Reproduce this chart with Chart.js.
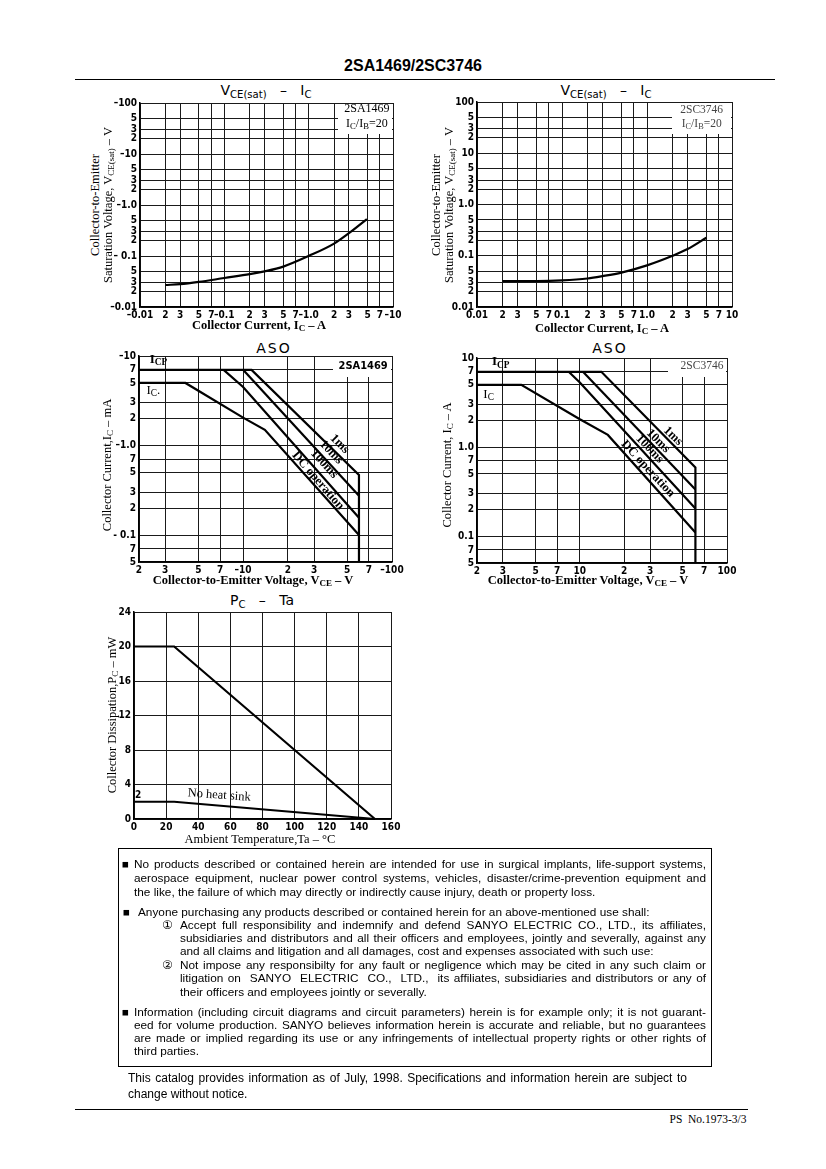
<!DOCTYPE html>
<html>
<head>
<meta charset="utf-8">
<title>2SA1469/2SC3746</title>
<script src="https://cdn.jsdelivr.net/npm/chart.js@4/dist/chart.umd.min.js"></script>
<style>
  body { margin: 0; background: #fff; }
  #page { position: relative; width: 826px; height: 1169px; overflow: hidden; background: #fff; color: #000; font-family: "Liberation Sans", Arial, sans-serif; }
  canvas { position: absolute; }
  .abs { position: absolute; white-space: nowrap; transform: translate(-50%, -50%); }
  .ctitle { font-family: "DejaVu Sans", sans-serif; font-size: 14px; }
  .xt { font-family: "Liberation Serif", serif; font-weight: bold; font-size: 12.5px; }
  .yt { font-family: "Liberation Serif", serif; font-size: 12.5px; transform: translate(-50%, -50%) rotate(-90deg); }
  sub { font-size: 72%; vertical-align: -0.3em; line-height: 0; }
  .rule { position: absolute; height: 0; border-top: 1.5px solid #000; }
  #notice { position: absolute; left: 118px; top: 848px; width: 594px; height: 219px; border: 1.5px solid #000; box-sizing: border-box; }
  .ln { position: absolute; font-size: 11.8px; line-height: 14px; height: 14px; overflow: visible; white-space: normal; }
  .j { text-align: justify; text-align-last: justify; }
  .sq { position: absolute; font-size: 11.5px; line-height: 14px; }
  .cn { position: absolute; font-family: "DejaVu Sans", sans-serif; font-size: 12px; line-height: 14px; }
</style>
</head>
<body>
<div id="page">
  <div class="abs" style="left:413px; top:66px; font-weight:bold; font-size:16px;">2SA1469/2SC3746</div>
  <div class="rule" style="left:75px; top:79px; width:700px;"></div>

  <!-- chart titles -->
  <div class="abs ctitle" style="left:266px; top:90px;">V<sub>CE(sat)</sub>&nbsp;&nbsp;&nbsp;–&nbsp;&nbsp;&nbsp;I<sub>C</sub></div>
  <div class="abs ctitle" style="left:606px; top:90px;">V<sub>CE(sat)</sub>&nbsp;&nbsp;&nbsp;–&nbsp;&nbsp;&nbsp;I<sub>C</sub></div>
  <div class="abs ctitle" style="left:274px; top:348px; letter-spacing:2px;">ASO</div>
  <div class="abs ctitle" style="left:610px; top:348px; letter-spacing:2px;">ASO</div>
  <div class="abs ctitle" style="left:262px; top:600px;">P<sub>C</sub>&nbsp;&nbsp;&nbsp;–&nbsp;&nbsp;&nbsp;Ta</div>

  <canvas id="c1"></canvas>
  <canvas id="c2"></canvas>
  <canvas id="c3"></canvas>
  <canvas id="c4"></canvas>
  <canvas id="c5"></canvas>

  <!-- axis titles -->
  <div class="abs xt" style="left:259px; top:325px;">Collector Current, I<sub>C</sub> – A</div>
  <div class="abs yt" style="left:95px; top:205px;">Collector-to-Emitter</div>
  <div class="abs yt" style="left:108px; top:205px;">Saturation Voltage, V<sub>CE(sat)</sub> – V</div>

  <div class="abs xt" style="left:602px; top:328px;">Collector Current, I<sub>C</sub> – A</div>
  <div class="abs yt" style="left:436px; top:205px;">Collector-to-Emitter</div>
  <div class="abs yt" style="left:449px; top:205px;">Saturation Voltage, V<sub>CE(sat)</sub> – V</div>

  <div class="abs xt" style="left:253px; top:580px;">Collector-to-Emitter Voltage, V<sub>CE</sub> – V</div>
  <div class="abs yt" style="left:107px; top:465px;">Collector Current,I<sub>C</sub> – mA</div>

  <div class="abs xt" style="left:588px; top:580px;">Collector-to-Emitter Voltage, V<sub>CE</sub> – V</div>
  <div class="abs yt" style="left:447px; top:465px;">Collector Current, I<sub>C</sub> – A</div>

  <div class="abs xt" style="left:260px; top:839px; font-weight:normal;">Ambient Temperature,Ta – °C</div>
  <div class="abs yt" style="left:112px; top:715px;">Collector Dissipation,P<sub>C</sub> – mW</div>

  <!-- notice box -->
  <div id="notice">
    <div class="sq" style="left:3px; top:8px;">■</div>
    <div class="ln j" style="left:15px; width:572px; top:8px;">No products described or contained herein are intended for use in surgical implants, life-support systems,</div>
    <div class="ln j" style="left:15px; width:572px; top:22px;">aerospace equipment, nuclear power control systems, vehicles, disaster/crime-prevention equipment and</div>
    <div class="ln" style="left:15px; top:36px;">the like, the failure of which may directly or indirectly cause injury, death or property loss.</div>

    <div class="sq" style="left:4px; top:56px;">■</div>
    <div class="ln" style="left:19px; top:56px;">Anyone purchasing any products described or contained herein for an above-mentioned use shall:</div>
    <div class="cn" style="left:43px; top:69px;">①</div>
    <div class="ln j" style="left:61px; width:526px; top:69px;">Accept full responsibility and indemnify and defend SANYO ELECTRIC CO., LTD., its affiliates,</div>
    <div class="ln j" style="left:61px; width:526px; top:82px;">subsidiaries and distributors and all their officers and employees, jointly and severally, against any</div>
    <div class="ln" style="left:61px; top:95px;">and all claims and litigation and all damages, cost and expenses associated with such use:</div>
    <div class="cn" style="left:43px; top:109px;">②</div>
    <div class="ln j" style="left:61px; width:526px; top:109px;">Not impose any responsibilty for any fault or negligence which may be cited in any such claim or</div>
    <div class="ln j" style="left:61px; width:526px; top:122px;">litigation on&nbsp; SANYO&nbsp; ELECTRIC&nbsp; CO.,&nbsp; LTD.,&nbsp; its affiliates, subsidiaries and distributors or any of</div>
    <div class="ln" style="left:61px; top:136px;">their officers and employees jointly or severally.</div>

    <div class="sq" style="left:3px; top:156px;">■</div>
    <div class="ln j" style="left:15px; width:572px; top:156px;">Information (including circuit diagrams and circuit parameters) herein is for example only; it is not guarant-</div>
    <div class="ln j" style="left:15px; width:572px; top:169px;">eed for volume production. SANYO believes information herein is accurate and reliable, but no guarantees</div>
    <div class="ln j" style="left:15px; width:572px; top:182px;">are made or implied regarding its use or any infringements of intellectual property rights or other rights of</div>
    <div class="ln" style="left:15px; top:195px;">third parties.</div>
  </div>

  <div class="ln j" style="left:128px; width:559px; top:1071px; font-size:12px;">This catalog provides information as of July, 1998. Specifications and information herein are subject to</div>
  <div class="ln" style="left:128px; top:1087px; font-size:12px;">change without notice.</div>
  <div class="rule" style="left:75px; top:1109px; width:673px;"></div>
  <div class="abs" style="left:708px; top:1119px; font-family:'Liberation Serif', serif; font-size:11.5px;">PS&nbsp; No.1973-3/3</div>
</div>

<script>
// --- VCE(sat) - IC : tick values and labels ---
const vceTicksX = [0.01, 0.02, 0.03, 0.05, 0.07, 0.1, 0.2, 0.3, 0.5, 0.7, 1, 2, 3, 5, 7, 10];
const vceTicksY = [0.01, 0.02, 0.03, 0.05, 0.1, 0.2, 0.3, 0.5, 1, 2, 3, 5, 10, 20, 30, 50, 100];
const vceLabelsXA = ["–0.01", "2", "3", "5", "7", "–0.1", "2", "3", "5", "7", "–1.0", "2", "3", "5", "7", "–10"];
const vceLabelsYA = ["–0.01", "2", "3", "5", "– 0.1", "2", "3", "5", "–1.0", "2", "3", "5", "–10", "2", "3", "5", "–100"];
const vceLabelsXC = ["0.01", "2", "3", "5", "7", "0.1", "2", "3", "5", "7", "1.0", "2", "3", "5", "7", "10"];
const vceLabelsYC = ["0.01", "2", "3", "5", "0.1", "2", "3", "5", "1.0", "2", "3", "5", "10", "2", "3", "5", "100"];

// 2SA1469 curve (magnitudes)
const vceA_ic = [0.02, 0.03, 0.05, 0.1, 0.2, 0.3, 0.5, 1, 2, 3, 4.9];
const vceA_v = [0.027, 0.028, 0.031, 0.037, 0.044, 0.05, 0.062, 0.1, 0.175, 0.28, 0.53];
// 2SC3746 curve
const vceC_ic = [0.02, 0.05, 0.1, 0.2, 0.3, 0.5, 1, 2, 3, 5];
const vceC_v = [0.032, 0.032, 0.033, 0.036, 0.04, 0.047, 0.065, 0.1, 0.135, 0.225];

// --- ASO : tick values and labels ---
const asoTicksX = [2, 3, 5, 7, 10, 20, 30, 50, 70, 100];
const asoTicksY = [0.05, 0.07, 0.1, 0.2, 0.3, 0.5, 0.7, 1, 2, 3, 5, 7, 10];
const asoLabelsXA = ["2", "3", "5", "7", "–10", "2", "3", "5", "7", "–100"];
const asoLabelsYA = ["5", "7", "- 0.1", "2", "3", "5", "7", "–1.0", "2", "3", "5", "7", "–10"];
const asoLabelsXC = ["2", "3", "5", "7", "10", "2", "3", "5", "7", "100"];
const asoLabelsYC = ["5", "7", "0.1", "2", "3", "5", "7", "1.0", "2", "3", "5", "7", "10"];

// 2SA1469 ASO (ICP line + 1ms, 10ms, 100ms, DC)
const asoA_1ms_x = [2, 11.4, 60, 60];
const asoA_1ms_y = [7, 7, 0.47, 0.05];
const asoA_10ms_x = [10, 60];
const asoA_10ms_y = [7, 0.275];
const asoA_100ms_x = [7.4, 10, 60];
const asoA_100ms_y = [7, 4.5, 0.156];
const asoA_dc_x = [2, 4.1, 10, 14, 60];
const asoA_dc_y = [5, 5, 2.05, 1.5, 0.1];

// 2SC3746 ASO
const asoC_1ms_x = [2, 14, 61, 61];
const asoC_1ms_y = [7, 7, 0.59, 0.05];
const asoC_10ms_x = [10.5, 61];
const asoC_10ms_y = [7, 0.334];
const asoC_100ms_x = [8.4, 10, 61];
const asoC_100ms_y = [7, 5.3, 0.204];
const asoC_dc_x = [2, 4.0, 10, 15.5, 61];
const asoC_dc_y = [5, 5, 2.05, 1.37, 0.11];

// --- PC - Ta ---
const pcTicksX = [0, 20, 40, 60, 80, 100, 120, 140, 160];
const pcTicksY = [0, 4, 8, 12, 16, 20, 24];
const pcSink_ta = [0, 25, 150];
const pcSink_pc = [20, 20, 0];
const pcNoSink_ta = [0, 25, 150];
const pcNoSink_pc = [2, 2, 0];

// plot areas on the page: [left, top, right, bottom]
const Y_W = 36, X_H = 16, PAD_T = 8, PAD_R = 16;
const tickFont = { family: "'DejaVu Sans Condensed', 'Liberation Sans Narrow', 'DejaVu Sans', sans-serif", size: 10, weight: "bold" };

// text labels drawn inside the plots (data coordinates)
const notesById = {
  c1: [
    { box: [55, 30] },
    { x: 4.9, y: 76, runs: [["2SA1469"]], size: 12, family: "Liberation Serif" },
    { x: 4.9, y: 39, runs: [["I"], ["C", 1], ["/I"], ["B", 1], ["=20"]], size: 12, family: "Liberation Serif" }
  ],
  c2: [
    { box: [60, 31] },
    { x: 4.4, y: 70, runs: [["2SC3746"]], size: 11.5, family: "Liberation Serif", color: "#444" },
    { x: 4.4, y: 37, runs: [["I"], ["C", 1], ["/I"], ["B", 1], ["=20"]], size: 11.5, family: "Liberation Serif", color: "#444" }
  ],
  c3: [
    { box: [59, 20] },
    { x: 64, y: 7.7, runs: [["2SA1469"]], size: 11, family: "DejaVu Sans Condensed", weight: "bold" },
    { x: 2.7, y: 9.1, runs: [["I"], ["CP", 1]], size: 13, family: "Liberation Serif", weight: "bold" },
    { x: 2.5, y: 4.1, runs: [["I"], ["C", 1], ["."]], size: 13, family: "Liberation Serif" },
    { x: 44.5, y: 1.04, runs: [["1ms"]], size: 12.5, family: "Liberation Serif", weight: "bold", angle: 45 },
    { x: 39, y: 0.84, runs: [["10ms"]], size: 12.5, family: "Liberation Serif", weight: "bold", angle: 46 },
    { x: 35, y: 0.62, runs: [["100ms"]], size: 12.5, family: "Liberation Serif", weight: "bold", angle: 47 },
    { x: 31.8, y: 0.405, runs: [["DC operation"]], size: 12.5, family: "Liberation Serif", weight: "bold", angle: 49 }
  ],
  c4: [
    { box: [59, 18] },
    { x: 67.6, y: 8.1, runs: [["2SC3746"]], size: 11.5, family: "Liberation Serif", color: "#444" },
    { x: 2.9, y: 9.0, runs: [["I"], ["CP", 1]], size: 13, family: "Liberation Serif", weight: "bold" },
    { x: 2.4, y: 3.9, runs: [["I"], ["C", 1]], size: 13, family: "Liberation Serif" },
    { x: 43, y: 1.33, runs: [["1ms"]], size: 12.5, family: "Liberation Serif", weight: "bold", angle: 44 },
    { x: 34, y: 1.17, runs: [["10ms"]], size: 12.5, family: "Liberation Serif", weight: "bold", angle: 45 },
    { x: 29.8, y: 0.95, runs: [["100ms"]], size: 12.5, family: "Liberation Serif", weight: "bold", angle: 46 },
    { x: 29, y: 0.57, runs: [["DC operation"]], size: 12.5, family: "Liberation Serif", weight: "bold", angle: 47 }
  ],
  c5: [
    { x: 2.6, y: 2.7, runs: [["2"]], size: 10, family: "DejaVu Sans Condensed", weight: "bold" },
    { x: 53, y: 2.75, runs: [["No heat sink"]], size: 12.5, family: "Liberation Serif", angle: 4 }
  ]
};

function drawRuns(ctx, n) {
  const base = n.size || 12;
  const fam = n.family || "serif";
  const w = n.weight || "normal";
  let total = 0;
  n.runs.forEach((r) => {
    ctx.font = w + " " + (r[1] ? base * 0.72 : base) + "px '" + fam + "', serif";
    total += ctx.measureText(r[0]).width;
  });
  let x = -total / 2;
  ctx.textBaseline = "middle";
  ctx.fillStyle = n.color || "#000";
  n.runs.forEach((r) => {
    const s = r[1] ? base * 0.72 : base;
    ctx.font = w + " " + s + "px '" + fam + "', serif";
    ctx.fillText(r[0], x, r[1] ? base * 0.25 : 0);
    x += ctx.measureText(r[0]).width;
  });
}

const notesPlugin = {
  id: "notes",
  beforeDatasetsDraw(chart) {
    const list = notesById[chart.canvas.id] || [];
    const a = chart.chartArea;
    const ctx = chart.ctx;
    list.forEach((n) => {
      if (!n.box) return;
      ctx.save();
      ctx.fillStyle = "#fff";
      ctx.fillRect(a.right - n.box[0], a.top + 1, n.box[0] - 1, n.box[1]);
      ctx.restore();
    });
  },
  afterDatasetsDraw(chart) {
    const list = notesById[chart.canvas.id] || [];
    const ctx = chart.ctx;
    const xs = chart.scales.x, ys = chart.scales.y;
    list.forEach((n) => {
      if (!n.runs) return;
      ctx.save();
      ctx.translate(xs.getPixelForValue(n.x), ys.getPixelForValue(n.y));
      if (n.angle) ctx.rotate((n.angle * Math.PI) / 180);
      drawRuns(ctx, n);
      ctx.restore();
    });
  }
};

function pts(xs, ys) {
  return xs.map((x, i) => ({ x: x, y: ys[i] }));
}

function axis(type, ticks, labels, isX) {
  return {
    type: type,
    min: ticks[0],
    max: ticks[ticks.length - 1],
    afterBuildTicks: (s) => {
      s.ticks = ticks.map((v) => ({ value: v }));
    },
    afterFit: (s) => {
      if (isX) s.height = X_H;
      else s.width = Y_W;
    },
    ticks: {
      autoSkip: false,
      maxRotation: 0,
      minRotation: 0,
      padding: isX ? 2 : 3,
      color: "#000",
      font: tickFont,
      callback: (v, i) => labels[i]
    },
    grid: { color: "#1a1a1a", lineWidth: 1, drawTicks: false },
    border: { color: "#000", width: 1.5 }
  };
}

function line(xs, ys, curved) {
  return {
    data: pts(xs, ys),
    showLine: true,
    borderColor: "#000",
    borderWidth: 2.2,
    pointRadius: 0,
    clip: false,
    cubicInterpolationMode: curved ? "monotone" : "default",
    tension: 0
  };
}

function makeChart(id, plot, datasets, xAxis, yAxis) {
  const cv = document.getElementById(id);
  const w = plot[2] - plot[0] + Y_W + PAD_R;
  const h = plot[3] - plot[1] + PAD_T + X_H;
  cv.width = w;
  cv.height = h;
  cv.style.left = plot[0] - Y_W + "px";
  cv.style.top = plot[1] - PAD_T + "px";
  cv.style.width = w + "px";
  cv.style.height = h + "px";
  return new Chart(cv.getContext("2d"), {
    type: "scatter",
    data: { datasets: datasets },
    options: {
      responsive: false,
      animation: false,
      devicePixelRatio: 1,
      layout: { padding: { top: PAD_T, right: PAD_R, left: 0, bottom: 0 } },
      plugins: { legend: { display: false }, tooltip: { enabled: false } },
      scales: { x: xAxis, y: yAxis }
    },
    plugins: [notesPlugin]
  });
}

makeChart("c1", [140, 102, 393, 307],
  [line(vceA_ic, vceA_v, true)],
  axis("logarithmic", vceTicksX, vceLabelsXA, true),
  axis("logarithmic", vceTicksY, vceLabelsYA, false));

makeChart("c2", [477, 101, 732, 307],
  [line(vceC_ic, vceC_v, true)],
  axis("logarithmic", vceTicksX, vceLabelsXC, true),
  axis("logarithmic", vceTicksY, vceLabelsYC, false));

makeChart("c3", [139, 355, 392, 562],
  [line(asoA_1ms_x, asoA_1ms_y), line(asoA_10ms_x, asoA_10ms_y), line(asoA_100ms_x, asoA_100ms_y), line(asoA_dc_x, asoA_dc_y)],
  axis("logarithmic", asoTicksX, asoLabelsXA, true),
  axis("logarithmic", asoTicksY, asoLabelsYA, false));

makeChart("c4", [477, 357, 727, 563],
  [line(asoC_1ms_x, asoC_1ms_y), line(asoC_10ms_x, asoC_10ms_y), line(asoC_100ms_x, asoC_100ms_y), line(asoC_dc_x, asoC_dc_y)],
  axis("logarithmic", asoTicksX, asoLabelsXC, true),
  axis("logarithmic", asoTicksY, asoLabelsYC, false));

makeChart("c5", [134, 611, 391, 819],
  [line(pcSink_ta, pcSink_pc), line(pcNoSink_ta, pcNoSink_pc)],
  axis("linear", pcTicksX, pcTicksX.map(String), true),
  axis("linear", pcTicksY, pcTicksY.map(String), false));
</script>
</body>
</html>
